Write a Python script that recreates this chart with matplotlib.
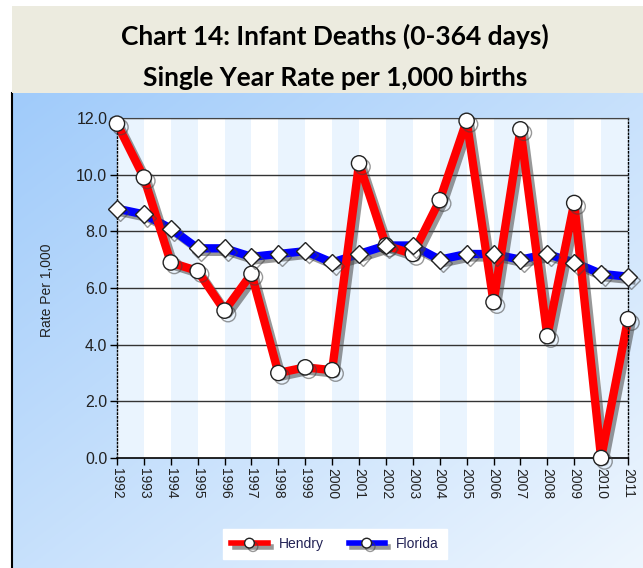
import numpy as np
import matplotlib
matplotlib.use('Agg')
import matplotlib.pyplot as plt
import matplotlib.patheffects as pe
from matplotlib.patches import Rectangle
from matplotlib.lines import Line2D

# Data
years = list(range(1992, 2012))
hendry = [11.8, 9.9, 6.9, 6.6, 5.2, 6.5, 3.0, 3.2, 3.1, 10.4,
          7.5, 7.2, 9.1, 11.9, 5.5, 11.6, 4.3, 9.0, 0.0, 4.9]
florida = [8.8, 8.6, 8.1, 7.4, 7.4, 7.1, 7.2, 7.3, 6.9, 7.2,
           7.5, 7.5, 7.0, 7.2, 7.2, 7.0, 7.2, 6.9, 6.5, 6.4]
y_ticks = [0, 2, 4, 6, 8, 10, 12]

W, H = 643, 568
fig = plt.figure(figsize=(W / 100, H / 100), dpi=100)
fig.patch.set_facecolor('white')

# Title band
fig.patches.append(Rectangle((12 / W, 1 - 93 / H), 1, 87 / H, transform=fig.transFigure,
                             facecolor='#ECEBDF', edgecolor='none', zorder=0))
title_font = dict(ha='center', va='center', fontsize=19, weight='bold', family='Lato', color='black')
fig.text(335 / W, 1 - 36 / H, 'Chart 14: Infant Deaths (0-364 days)', **title_font)
fig.text(335 / W, 1 - 78 / H, 'Single Year Rate per 1,000 births', **title_font)

# Blue gradient background of chart area
bg = fig.add_axes([12 / W, 0, 1 - 12 / W, 475 / H], zorder=0)
gx, gy = np.meshgrid(np.linspace(0, 1, 200), np.linspace(0, 1, 200))
t = (gx + gy) / 2
c0 = np.array([160, 203, 250]) / 255
c1 = np.array([238, 246, 254]) / 255
img = c0[None, None, :] * (1 - t[..., None]) + c1[None, None, :] * t[..., None]
bg.imshow(img, aspect='auto', extent=[0, 1, 0, 1])
bg.set_xticks([])
bg.set_yticks([])
for s in ['top', 'right', 'bottom']:
    bg.spines[s].set_visible(False)
bg.spines['left'].set_linewidth(1.5)
bg.spines['left'].set_color('black')

# Plot area
ax = fig.add_axes([117 / W, 110 / H, 511 / W, 340 / H], zorder=1)
ax.set_facecolor('white')
for i, yr in enumerate(years[:-1]):
    if i % 2 == 0:
        ax.axvspan(yr, yr + 1, facecolor='#EAF4FE', edgecolor='none', zorder=0)

for yv in y_ticks[1:]:
    ax.axhline(yv, color='#333333', lw=1, zorder=1)

shadow = [pe.SimpleLineShadow(offset=(2.5, -2.5), shadow_color='#444444', alpha=0.55), pe.Normal()]

ax.plot(years, florida, color='#0000FF', lw=6, zorder=3, solid_joinstyle='round',
        path_effects=shadow, clip_on=False)
ax.plot(years, hendry, color='#FF0000', lw=6, zorder=4, solid_joinstyle='round',
        path_effects=shadow, clip_on=False)
ax.plot(years, hendry, ls='none', marker='o', ms=11, mfc='white', mec='#222222', mew=1,
        zorder=8, path_effects=shadow, clip_on=False)
ax.plot(years, florida, ls='none', marker='D', ms=9, mfc='white', mec='#222222', mew=1,
        zorder=9, path_effects=shadow, clip_on=False)

ax.set_xlim(1992, 2011)
ax.set_ylim(0, 12)
ax.set_xticks(years)
ax.set_xticklabels([str(y) for y in years], rotation=270, fontsize=10,
                   family='Liberation Sans', color='#222222')
ax.set_yticks(y_ticks)
ax.set_yticklabels(['%.1f' % v for v in y_ticks], fontsize=11.5, family='Liberation Sans', color='#222222')
ax.tick_params(axis='both', direction='out', length=5, width=1, color='black', pad=2)
ax.spines['left'].set_linestyle(':')
ax.spines['right'].set_linestyle(':')
ax.spines['left'].set_linewidth(1)
ax.spines['right'].set_linewidth(1)
ax.spines['top'].set_color('#444444')
ax.spines['bottom'].set_linewidth(1.2)
for s in ax.spines.values():
    s.set_zorder(7)

fig.text(47 / W, 1 - 290 / H, 'Rate Per 1,000', rotation=90, ha='center', va='center',
         fontsize=10, family='Liberation Sans', color='#222222')

# Legend
handles = [
    Line2D([], [], color='#FF0000', lw=4, marker='o', ms=7, mfc='white', mec='#222222',
           path_effects=shadow),
    Line2D([], [], color='#0000FF', lw=4, marker='o', ms=7, mfc='white', mec='#222222',
           path_effects=shadow),
]
leg = fig.legend(handles, ['Hendry', 'Florida'], loc='center', bbox_to_anchor=(335 / W, 24 / H),
                 ncol=2, frameon=True, fancybox=False, handlelength=2.6, columnspacing=1.8,
                 prop=dict(family='Liberation Sans', size=10), borderpad=0.6)
leg.get_frame().set_facecolor('white')
leg.get_frame().set_edgecolor('white')
leg.get_frame().set_alpha(1)
for txt in leg.get_texts():
    txt.set_color('#222255')

fig.savefig('out.png', dpi=100)
